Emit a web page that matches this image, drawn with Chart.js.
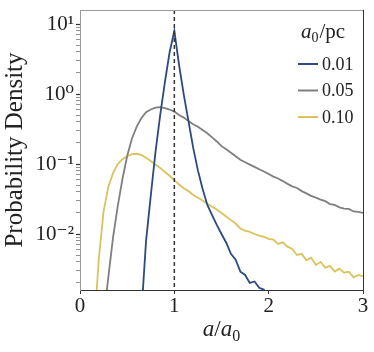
<!DOCTYPE html>
<html>
<head>
<meta charset="utf-8">
<script src="https://cdn.jsdelivr.net/npm/chart.js@4/dist/chart.umd.min.js"></script>
<style>
html,body{margin:0;padding:0;background:#fff;}
#wrap{width:374px;height:352px;}
</style>
</head>
<body>
<div id="wrap"><canvas id="c" width="374" height="352"></canvas></div>
<script>
// a / a0 bin positions
const xs = [0.00,0.05,0.10,0.15,0.20,0.25,0.30,0.35,0.40,0.45,
            0.50,0.55,0.60,0.65,0.70,0.75,0.80,0.85,0.90,0.95,
            1.00,1.05,1.10,1.15,1.20,1.25,1.30,1.35,1.40,1.45,
            1.50,1.55,1.60,1.65,1.70,1.75,1.80,1.85,1.90,1.95,
            2.00,2.05,2.10,2.15,2.20,2.25,2.30,2.35,2.40,2.45,
            2.50,2.55,2.60,2.65,2.70,2.75,2.80,2.85,2.90,2.95,3.00];

// a0 = 0.01 pc
const dens001 = [null,null,null,null,null,null,null,null,null,null,
                 null,null,null,0.0007,0.0079,0.035,0.148,0.50,1.48,3.95,
                 8.0,2.6,0.98,0.41,0.17,0.081,0.044,0.026,0.0186,0.0135,
                 0.0100,0.0075,0.0052,0.0043,0.0029,0.0026,0.0020,0.0021,0.0017,0.0016,
                 0.0004,null,null,null,null,null,null,null,null,null,
                 null,null,null,null,null,null,null,null,null,null,null];

// a0 = 0.05 pc
const dens005 = [null,null,null,null,null,0.0006,0.0024,0.0089,0.025,0.061,
                 0.13,0.23,0.34,0.45,0.55,0.60,0.64,0.65,0.63,0.60,
                 0.56,0.50,0.46,0.41,0.37,0.34,0.305,0.275,0.24,0.21,
                 0.18,0.162,0.145,0.129,0.115,0.106,0.098,0.091,0.084,0.078,
                 0.072,0.066,0.062,0.057,0.052,0.048,0.0455,0.041,0.038,0.035,
                 0.033,0.031,0.0295,0.0268,0.026,0.024,0.023,0.0228,0.021,0.0207,0.020];

// a0 = 0.10 pc
const dens010 = [null,null,null,0.00047,0.0045,0.021,0.047,0.074,0.100,0.117,
                 0.129,0.138,0.140,0.135,0.123,0.110,0.098,0.088,0.077,0.068,
                 0.059,0.051,0.045,0.041,0.036,0.033,0.030,0.027,0.0245,0.0224,
                 0.020,0.0178,0.0158,0.0141,0.0120,0.0112,0.0107,0.0100,0.0095,0.0091,
                 0.0085,0.0083,0.0072,0.0076,0.0066,0.0061,0.0050,0.0052,0.0042,0.0046,
                 0.0036,0.0040,0.0033,0.0035,0.0029,0.0032,0.0028,0.0029,0.0024,0.0026,0.0025];

const seriesLabels = ['0.01','0.05','0.10'];
const seriesColors = ['#2b4a82','#7f7f7f','#d8c35c'];
const xTicks = [0,1,2,3];
const yTickLabels = {'1':'10\u00B9','0':'10\u2070','-1':'10\u207B\u00B9','-2':'10\u207B\u00B2'};
const refLine = 1;
const yMin = Math.pow(10,-2.8), yMax = Math.pow(10,1.2);

const SERIF = '"Liberation Serif", "DejaVu Serif", serif';

function pts(arr){ return xs.map((x,i)=>({x:x, y:arr[i]})); }

const framePlugin = {
  id:'frame',
  afterDatasetsDraw(chart){
    const {ctx, chartArea:a, scales} = chart;
    const px = scales.x.getPixelForValue(refLine);
    ctx.save();
    ctx.strokeStyle = '#333';
    ctx.lineWidth = 1.5;
    ctx.setLineDash([4,3]);
    ctx.beginPath(); ctx.moveTo(px, a.top); ctx.lineTo(px, a.bottom); ctx.stroke();
    ctx.restore();
  },
  afterDraw(chart){
    const {ctx, chartArea:a} = chart;
    ctx.save();
    ctx.lineWidth = 1;
    ctx.strokeStyle = '#9a9a9a';
    ctx.beginPath(); ctx.moveTo(a.left, a.top+0.5); ctx.lineTo(a.right, a.top+0.5); ctx.stroke();
    ctx.strokeStyle = '#333';
    ctx.beginPath(); ctx.moveTo(a.right+0.5, a.top); ctx.lineTo(a.right+0.5, a.bottom); ctx.stroke();

    // legend
    const lx = a.right - 65;
    ctx.textBaseline = 'alphabetic';
    let tx = a.right - 62, ty = a.top + 28;
    ctx.fillStyle = '#222';
    ctx.font = 'italic 21px ' + SERIF;
    ctx.fillText('a', tx, ty); tx += ctx.measureText('a').width;
    ctx.font = '14px ' + SERIF;
    ctx.fillText('0', tx, ty+4); tx += ctx.measureText('0').width + 1;
    ctx.font = '21px ' + SERIF;
    ctx.fillText('/pc', tx, ty);
    ctx.font = '18px ' + SERIF;
    ctx.textBaseline = 'middle';
    chart.data.datasets.forEach((ds,i)=>{
      const y = a.top + 54 + i*26.5;
      ctx.strokeStyle = ds.borderColor; ctx.lineWidth = 2;
      ctx.beginPath(); ctx.moveTo(lx, y); ctx.lineTo(lx+20, y); ctx.stroke();
      ctx.fillStyle = '#222';
      ctx.fillText(ds.label, lx+24, y+1);
    });

    // x axis title a/a0
    ctx.textBaseline = 'alphabetic';
    const cx = (a.left + a.right)/2;
    const parts = [['italic 23px ','a',0],['23px ','/',0],['italic 23px ','a',0],['16px ','0',5]];
    let w = 0;
    parts.forEach(p=>{ ctx.font = p[0]+SERIF; w += ctx.measureText(p[1]).width; });
    let xx = cx - w/2; const by = 336;
    parts.forEach(p=>{ ctx.font = p[0]+SERIF; ctx.fillText(p[1], xx, by+p[2]); xx += ctx.measureText(p[1]).width; });
    ctx.restore();
  }
};

new Chart(document.getElementById('c'), {
  type:'line',
  data:{
    datasets:[
      {label:seriesLabels[0], data:pts(dens001), borderColor:seriesColors[0]},
      {label:seriesLabels[1], data:pts(dens005), borderColor:seriesColors[1]},
      {label:seriesLabels[2], data:pts(dens010), borderColor:seriesColors[2]}
    ]
  },
  options:{
    responsive:false,
    animation:false,
    devicePixelRatio:1,
    layout:{padding:{top:10,right:11,left:0,bottom:0}},
    elements:{line:{borderWidth:1.8,tension:0,fill:false}, point:{radius:0}},
    plugins:{legend:{display:false}, tooltip:{enabled:false}},
    scales:{
      x:{
        type:'linear', min:0, max:3,
        afterBuildTicks(s){ s.ticks = xTicks.map(v=>({value:v})); },
        afterFit(s){ s.height = 62; s.paddingLeft = 0; s.paddingRight = 0; },
        grid:{display:true, drawOnChartArea:false, tickLength:4, tickColor:'#333'},
        border:{color:'#333', width:1},
        ticks:{color:'#222', padding:0, font:{family:SERIF, size:21}, callback:v=>String(v)}
      },
      y:{
        type:'logarithmic', min:yMin, max:yMax,
        afterBuildTicks(s){
          const t=[];
          for(let e=-3;e<=1;e++){ for(let m=1;m<=9;m++){ const v=m*Math.pow(10,e); if(v>=yMin && v<=yMax) t.push({value:v, major:m===1}); } }
          s.ticks=t;
        },
        afterFit(s){ s.width = 80; s.paddingTop = 0; s.paddingBottom = 0; },
        grid:{display:true, drawOnChartArea:false, tickLength:4,
              tickColor:(c)=> (c.tick && c.tick.major) ? '#333' : '#777',
              tickWidth:(c)=> (c.tick && c.tick.major) ? 1.2 : 0.8},
        border:{color:'#9a9a9a', width:1},
        ticks:{color:'#222', padding:2, autoSkip:false, font:{family:SERIF, size:21},
          callback:(v)=>{ const l=Math.log10(v); const r=Math.round(l); return Math.abs(l-r)<1e-6 ? (yTickLabels[String(r)]||'') : ''; }},
        title:{display:true, text:'Probability Density', color:'#222', font:{family:SERIF, size:25}, padding:{top:0,bottom:0}}
      }
    }
  },
  plugins:[framePlugin]
});
</script>
</body>
</html>
